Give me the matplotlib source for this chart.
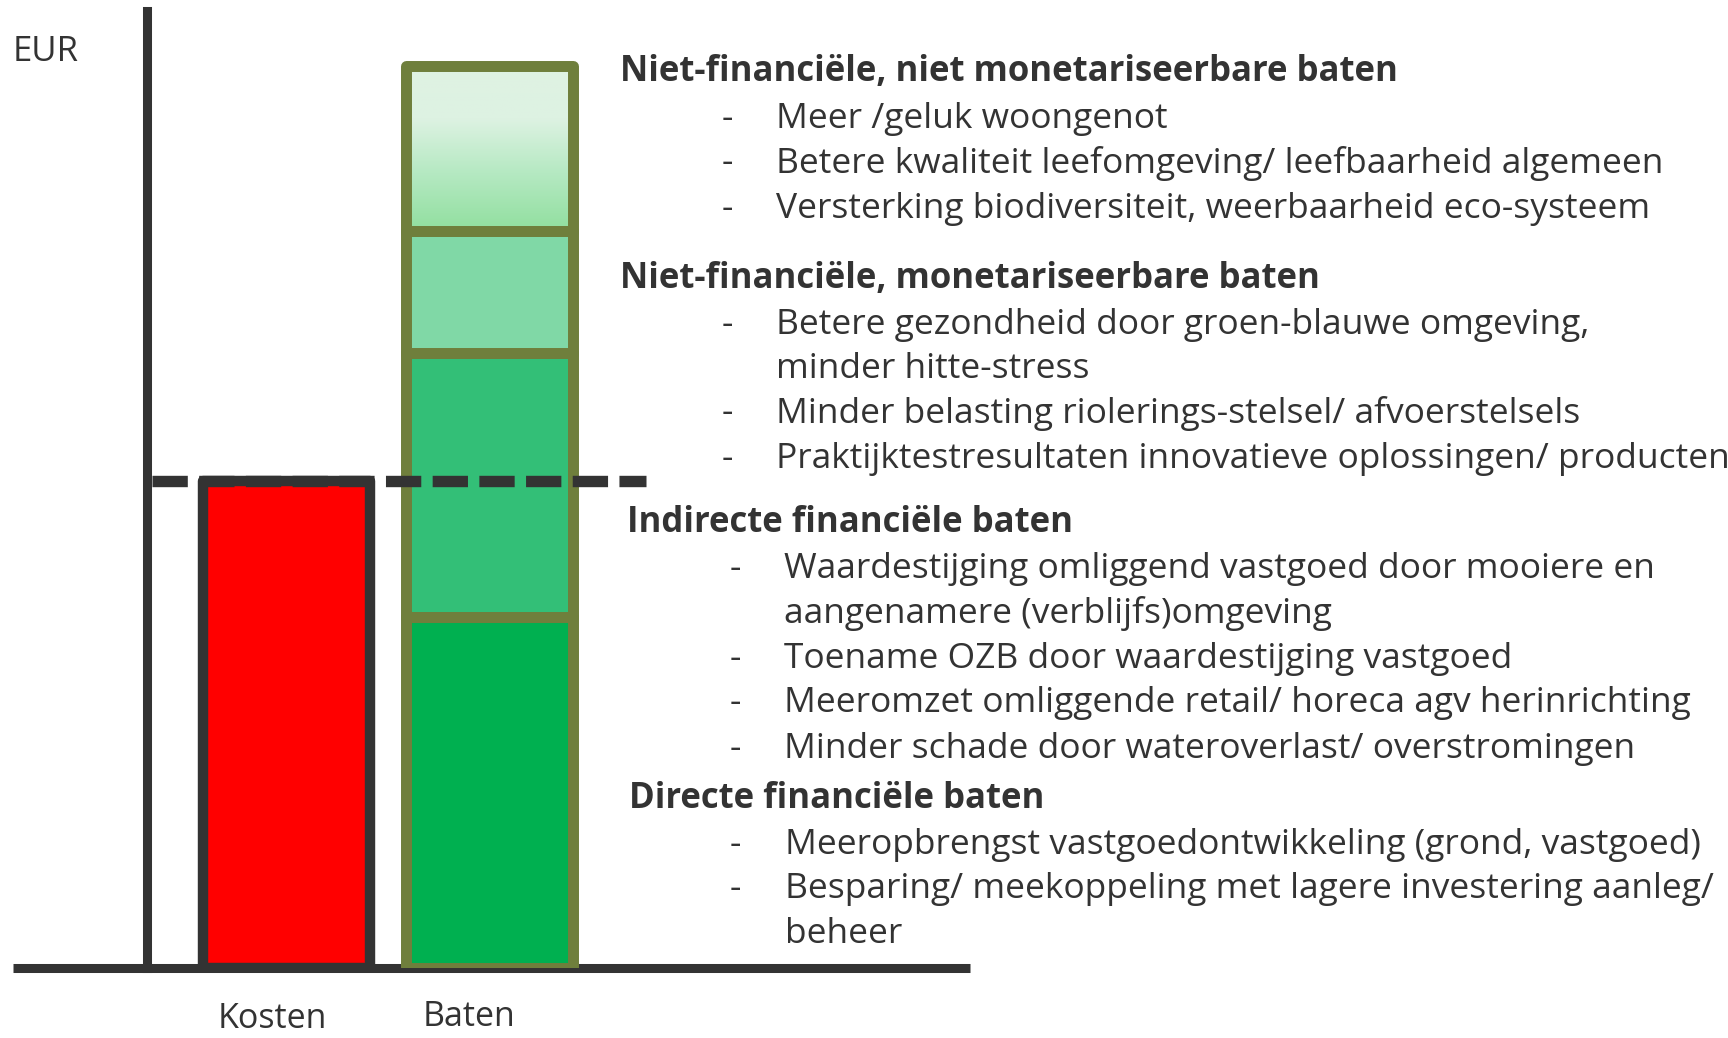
import matplotlib
matplotlib.use("Agg")
import matplotlib.pyplot as plt
import matplotlib.transforms as mtransforms
import numpy as np
from matplotlib.colors import LinearSegmentedColormap

plt.rcParams['font.family'] = ['Open Sans', 'DejaVu Sans']

# ---------------- data ----------------
categories = ["Kosten", "Baten"]
kosten_value = 4.87
baten_segments = [3.51, 2.64, 1.22, 1.65]          # bottom -> top
baten_colors = ["#00B050", "#33BF77", "#80D8A6", None]  # top one is gradient
y_label = "EUR"

groups = [
    ("Niet-financiële, niet monetariseerbare baten",
     ["Meer /geluk woongenot",
      "Betere kwaliteit leefomgeving/ leefbaarheid algemeen",
      "Versterking biodiversiteit, weerbaarheid eco-systeem"]),
    ("Niet-financiële, monetariseerbare baten",
     ["Betere gezondheid door groen-blauwe omgeving,\nminder hitte-stress",
      "Minder belasting riolerings-stelsel/ afvoerstelsels",
      "Praktijktestresultaten innovatieve oplossingen/ producten"]),
    ("Indirecte financiële baten",
     ["Waardestijging omliggend vastgoed door mooiere en\naangenamere (verblijfs)omgeving",
      "Toename OZB door waardestijging vastgoed",
      "Meeromzet omliggende retail/ horeca agv herinrichting",
      "Minder schade door wateroverlast/ overstromingen"]),
    ("Directe financiële baten",
     ["Meeropbrengst vastgoedontwikkeling (grond, vastgoed)",
      "Besparing/ meekoppeling met lagere investering aanleg/\nbeheer"]),
]

# ---------------- layout ----------------
W, H = 1728, 1038
DPI = 100
fig = plt.figure(figsize=(W / DPI, H / DPI), dpi=DPI)
fig.patch.set_facecolor("white")

DARK = "#333333"
OLIVE = "#6F7F3C"

def fx(px):
    return px / W

def fy(py):
    return 1 - py / H

ax_left, ax_right, ax_bottom, ax_top = 13, 970, 968, 11
ax = fig.add_axes([fx(ax_left), fy(ax_bottom), fx(ax_right) - fx(ax_left), fy(ax_top) - fy(ax_bottom)])
ax.set_facecolor("none")
for s in ["top", "right"]:
    ax.spines[s].set_visible(False)
ax.spines["bottom"].set_linewidth(6.5)
ax.spines["bottom"].set_color(DARK)
ax.spines["bottom"].set_capstyle("butt")
ax.spines["left"].set_linewidth(6.5)
ax.spines["left"].set_color(DARK)
ax.spines["left"].set_position(("data", -0.687))
ax.set_yticks([])
ax.set_xticks([])

bar_w = 0.82
xs = np.arange(len(categories))

# Kosten bar
ax.bar(xs[0], kosten_value, width=bar_w, color="#FF0000", edgecolor=DARK,
       linewidth=7.5, zorder=3, joinstyle="round")

# Baten stacked bar
bottom = 0.0
for h, c in zip(baten_segments, baten_colors):
    if c is not None:
        ax.bar(xs[1], h, bottom=bottom, width=bar_w, color=c, edgecolor=OLIVE,
               linewidth=7.9, zorder=3, joinstyle="round")
    else:
        cmap = LinearSegmentedColormap.from_list(
            "g", [(0.0, "#91DF9F"), (0.35, "#B5E9C2"), (0.68, "#DDF2E2"), (1.0, "#DFF2E3")])
        grad = np.linspace(0, 1, 256).reshape(-1, 1)
        ax.imshow(grad, cmap=cmap, origin="lower", aspect="auto",
                  extent=(xs[1] - bar_w / 2, xs[1] + bar_w / 2, bottom, bottom + h),
                  zorder=2)
        ax.bar(xs[1], h, bottom=bottom, width=bar_w, color="none", edgecolor=OLIVE,
               linewidth=7.9, zorder=3, joinstyle="round")
    bottom += h
ax.set_xlim(-1.347, 3.367)
ax.set_ylim(0, 9.57)

# dashed reference line at cost level
ax.plot([-0.66, 1.77], [kosten_value, kosten_value], color=DARK, linewidth=8.2,
        linestyle=(0, (3.1, 1.0)), dash_capstyle="butt", zorder=5)

# category labels
label_offsets = [-0.07, -0.10]
label_y_px = [1019, 1017]
blend = mtransforms.blended_transform_factory(ax.transData, fig.transFigure)
for i, (cat, off) in enumerate(zip(categories, label_offsets)):
    ax.text(xs[i] + off, fy(label_y_px[i]), cat, transform=blend,
            ha="center", va="center", fontsize=24.5, color=DARK)

# y label
fig.text(fx(13), fy(52), y_label, ha="left", va="center", fontsize=25, color=DARK)

# ---------------- text blocks ----------------
FS = 25.5
FSH = 25
DY = 3.5
head_pos = [(620, 69), (620, 275), (627, 519), (629, 796)]
dash_x = [722, 722, 730, 730]
text_x = [776, 776, 784, 785]
item_y = [
    [116, 160, 205],
    [321, 410, 455],
    [566, 655, 700, 745],
    [842, 886],
]
LINE = 44.3
for (head, items), (hx, hy), dx, tx, ys in zip(groups, head_pos, dash_x, text_x, item_y):
    fig.text(fx(hx), fy(hy + DY), head, ha="left", va="center", fontsize=FSH,
             fontweight="bold", color=DARK)
    for it, yy in zip(items, ys):
        fig.text(fx(dx), fy(yy + DY), "-", ha="left", va="center", fontsize=FS, color=DARK)
        for k, ln in enumerate(it.split("\n")):
            fig.text(fx(tx), fy(yy + DY + k * LINE), ln, ha="left", va="center",
                     fontsize=FS, color=DARK)

fig.savefig("out.png", dpi=DPI, facecolor="white")
